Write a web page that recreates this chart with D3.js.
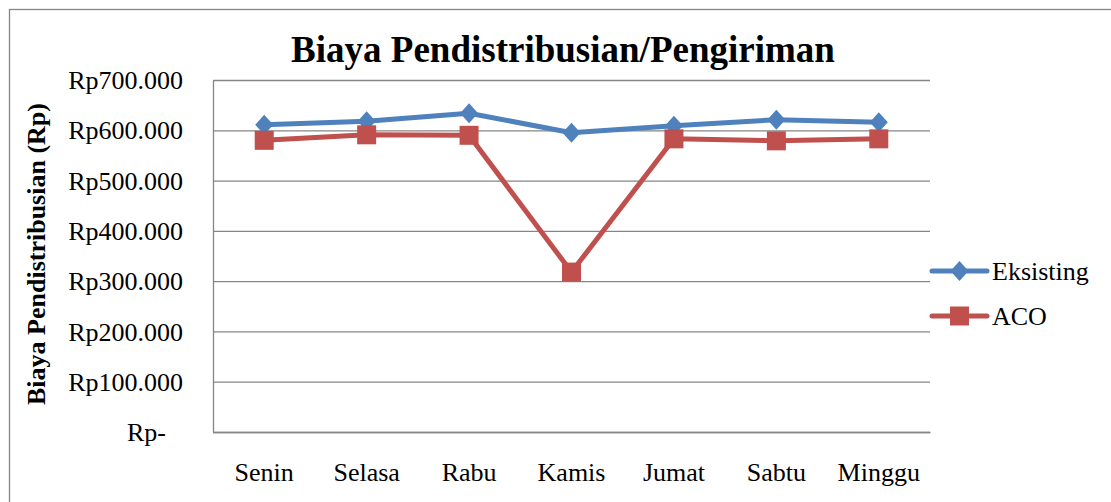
<!DOCTYPE html>
<html>
<head>
<meta charset="utf-8">
<script src="https://cdn.jsdelivr.net/npm/d3@7"></script>
<style>
  body { margin: 0; background: #fff; }
  text { font-family: "Liberation Serif", "Times New Roman", serif; fill: #000; }
</style>
</head>
<body>
<div id="chart"></div>
<script>
// chart values
var days = ["Senin", "Selasa", "Rabu", "Kamis", "Jumat", "Sabtu", "Minggu"];
var eksisting = [611000, 618000, 634000, 595000, 609000, 621000, 616000];
var aco = [580000, 591000, 590000, 318000, 583000, 579000, 583000];
var yTicks = [0, 100000, 200000, 300000, 400000, 500000, 600000, 700000];
var seriesNames = ["Eksisting", "ACO"];

var attrs = {
  width: 1111,
  height: 502,
  margin: { top: 80, left: 213, right: 181, bottom: 70 },
  gridColor: '#868686',
  colors: ['#4F81BD', '#C0504D'],
  fontSize: 26
};

var chartWidth = attrs.width - attrs.margin.left - attrs.margin.right;
var chartHeight = attrs.height - attrs.margin.top - attrs.margin.bottom;

var svg = d3.select('#chart').append('svg')
  .attr('width', attrs.width)
  .attr('height', attrs.height);

// outer chart border (runs off the right/bottom edge)
svg.append('rect')
  .attr('x', 9.5).attr('y', 9.5)
  .attr('width', 1200).attr('height', 600)
  .attr('fill', 'none')
  .attr('stroke', attrs.gridColor)
  .attr('stroke-width', 1.3);

var chart = svg.append('g')
  .attr('transform', `translate(${attrs.margin.left}, ${attrs.margin.top})`);

var x = d3.scaleBand().domain(days).range([0, chartWidth]);
var y = d3.scaleLinear().domain([0, 700000]).range([chartHeight, 0]);

var fmt = function (d) {
  return d === 0 ? 'Rp-' : 'Rp' + d3.format(',')(d).replace(/,/g, '.');
};

// y axis with gridlines
var yAxis = chart.append('g')
  .call(d3.axisLeft(y).tickValues(yTicks).tickFormat(fmt)
    .tickSize(-chartWidth).tickSizeOuter(0).tickPadding(30));

yAxis.select('.domain').attr('stroke', attrs.gridColor).attr('stroke-width', 1.3);
yAxis.selectAll('.tick line').attr('stroke', attrs.gridColor).attr('stroke-width', 1.3);
yAxis.selectAll('.tick text')
  .attr('font-family', '"Liberation Serif", "Times New Roman", serif')
  .attr('font-size', attrs.fontSize)
  .attr('fill', '#000')
  .attr('dy', '0.33em')
  .attr('dx', d => d === 0 ? -17 : 0);

// x axis
var xAxis = chart.append('g')
  .attr('transform', `translate(0, ${chartHeight})`)
  .call(d3.axisBottom(x).tickSize(0).tickSizeOuter(0).tickPadding(31));

xAxis.select('.domain').attr('stroke', attrs.gridColor).attr('stroke-width', 1.3);
xAxis.selectAll('.tick text')
  .attr('font-family', '"Liberation Serif", "Times New Roman", serif')
  .attr('font-size', attrs.fontSize)
  .attr('fill', '#000');

// lines
var line = d3.line()
  .x((d, i) => x(days[i]) + x.bandwidth() / 2)
  .y(d => y(d));

var series = [eksisting, aco];

series.forEach(function (data, s) {
  chart.append('path')
    .datum(data)
    .attr('fill', 'none')
    .attr('stroke', attrs.colors[s])
    .attr('stroke-width', 5)
    .attr('stroke-linejoin', 'round')
    .attr('d', line);
});

var diamond = 'M0,-10L9,0L0,10L-9,0Z';
var square = 'M-9.5,-9.5H9.5V9.5H-9.5Z';
var shapes = [diamond, square];

series.forEach(function (data, s) {
  chart.selectAll('.marker-' + s)
    .data(data)
    .enter()
    .append('path')
    .attr('class', 'marker-' + s)
    .attr('d', shapes[s])
    .attr('fill', attrs.colors[s])
    .attr('transform', (d, i) => `translate(${x(days[i]) + x.bandwidth() / 2}, ${y(d)})`);
});

// title
svg.append('text')
  .attr('x', 563)
  .attr('y', 62)
  .attr('text-anchor', 'middle')
  .attr('font-size', 37)
  .attr('font-weight', 'bold')
  .text('Biaya Pendistribusian/Pengiriman');

// y axis title
svg.append('text')
  .attr('transform', 'translate(45, 254) rotate(-90)')
  .attr('text-anchor', 'middle')
  .attr('font-size', 26)
  .attr('font-weight', 'bold')
  .text('Biaya Pendistribusian (Rp)');

// legend
var legend = svg.append('g');
seriesNames.forEach(function (name, s) {
  var ly = 271 + s * 45;
  legend.append('line')
    .attr('x1', 932).attr('x2', 987)
    .attr('y1', ly).attr('y2', ly)
    .attr('stroke', attrs.colors[s])
    .attr('stroke-width', 5)
    .attr('stroke-linecap', 'round');
  legend.append('path')
    .attr('d', shapes[s])
    .attr('fill', attrs.colors[s])
    .attr('transform', `translate(959.5, ${ly})`);
  legend.append('text')
    .attr('x', 992)
    .attr('y', ly)
    .attr('dy', '0.33em')
    .attr('font-size', attrs.fontSize)
    .text(name);
});
</script>
</body>
</html>
